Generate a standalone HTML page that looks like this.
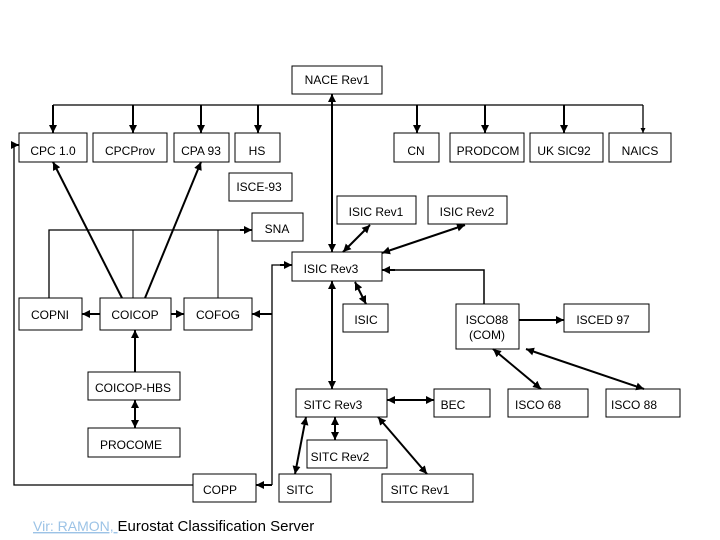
<!DOCTYPE html>
<html><head><meta charset="utf-8"><style>
html,body{margin:0;padding:0;background:#fff}
svg{display:block}
text{font-family:"Liberation Sans",Arial,sans-serif;font-size:12px;fill:#000}
</style></head><body>
<svg width="720" height="540" viewBox="0 0 720 540" xmlns="http://www.w3.org/2000/svg">
<defs>
<marker id="a" viewBox="0 0 10 10" refX="10" refY="5" markerWidth="4" markerHeight="4" orient="auto-start-reverse"><path d="M0,0L10,5L0,10z" fill="#000"/></marker>
</defs>
<g fill="#fff" stroke="#000" stroke-width="1">
<rect x="292" y="66" width="90" height="28"/>
<rect x="19" y="133" width="68" height="29"/>
<rect x="93" y="133" width="74" height="29"/>
<rect x="174" y="133" width="55" height="29"/>
<rect x="235" y="133" width="45" height="29"/>
<rect x="394" y="133" width="45" height="29"/>
<rect x="450" y="133" width="74" height="29"/>
<rect x="530" y="133" width="73" height="29"/>
<rect x="609" y="133" width="62" height="29"/>
<rect x="229" y="173" width="63" height="28"/>
<rect x="337" y="196" width="79" height="28"/>
<rect x="428" y="196" width="79" height="28"/>
<rect x="252" y="213" width="51" height="28"/>
<rect x="292" y="252" width="90" height="29"/>
<rect x="19" y="298" width="63" height="32"/>
<rect x="100" y="298" width="71" height="32"/>
<rect x="184" y="298" width="68" height="32"/>
<rect x="343" y="304" width="45" height="28"/>
<rect x="456" y="304" width="63" height="45"/>
<rect x="564" y="304" width="85" height="28"/>
<rect x="88" y="372" width="92" height="28"/>
<rect x="296" y="389" width="91" height="28"/>
<rect x="434" y="389" width="56" height="28"/>
<rect x="508" y="389" width="80" height="28"/>
<rect x="606" y="389" width="74" height="28"/>
<rect x="88" y="428" width="92" height="29"/>
<rect x="307" y="440" width="80" height="28"/>
<rect x="193" y="474" width="63" height="28"/>
<rect x="279" y="474" width="52" height="28"/>
<rect x="382" y="474" width="91" height="28"/>
</g>
<g fill="none" stroke="#000" stroke-width="2">
<path d="M53,105H643" stroke-width="1.3"/>
<line x1="53" y1="105" x2="53" y2="133" marker-end="url(#a)"/>
<line x1="133" y1="105" x2="133" y2="133" marker-end="url(#a)"/>
<line x1="201" y1="105" x2="201" y2="133" marker-end="url(#a)"/>
<line x1="258" y1="105" x2="258" y2="133" marker-end="url(#a)"/>
<line x1="417" y1="105" x2="417" y2="133" marker-end="url(#a)"/>
<line x1="485" y1="105" x2="485" y2="133" marker-end="url(#a)"/>
<line x1="564" y1="105" x2="564" y2="133" marker-end="url(#a)"/>
<line x1="643" y1="105" x2="643" y2="133" marker-end="url(#a)" stroke-width="1.3"/>
<line x1="332" y1="94" x2="332" y2="252" marker-start="url(#a)" marker-end="url(#a)"/>
<line x1="370" y1="225" x2="343" y2="252" marker-start="url(#a)" marker-end="url(#a)"/>
<line x1="465" y1="225" x2="382" y2="253" marker-start="url(#a)" marker-end="url(#a)"/>
<path d="M49,298V230H252" stroke-width="1.3"/>
<line x1="240" y1="230" x2="252" y2="230" marker-end="url(#a)"/>
<line x1="133" y1="230" x2="133" y2="298" stroke-width="1"/>
<line x1="218" y1="230" x2="218" y2="298" stroke-width="1"/>
<line x1="122" y1="298" x2="53" y2="162" marker-end="url(#a)"/>
<line x1="145" y1="298" x2="201" y2="162" marker-end="url(#a)"/>
<line x1="100" y1="314" x2="82" y2="314" marker-end="url(#a)"/>
<line x1="171" y1="314" x2="184" y2="314" marker-end="url(#a)"/>
<path d="M272,485V265H292" stroke-width="1.3"/>
<line x1="280" y1="265" x2="292" y2="265" marker-end="url(#a)"/>
<line x1="272" y1="314" x2="252" y2="314" marker-end="url(#a)"/>
<line x1="272" y1="485" x2="256" y2="485" marker-end="url(#a)"/>
<path d="M193,485H14V145H19" stroke-width="1.3"/>
<line x1="14" y1="145" x2="19" y2="145" marker-end="url(#a)"/>
<line x1="135" y1="372" x2="135" y2="330" marker-end="url(#a)"/>
<line x1="135" y1="400" x2="135" y2="428" marker-start="url(#a)" marker-end="url(#a)"/>
<line x1="332" y1="281" x2="332" y2="389" marker-start="url(#a)" marker-end="url(#a)"/>
<line x1="355" y1="282" x2="366" y2="304" marker-start="url(#a)" marker-end="url(#a)"/>
<path d="M484,304V270H382" stroke-width="1.5"/>
<line x1="395" y1="270" x2="382" y2="270" marker-end="url(#a)"/>
<line x1="519" y1="320" x2="564" y2="320" marker-end="url(#a)"/>
<line x1="493" y1="349" x2="541" y2="389" marker-start="url(#a)" marker-end="url(#a)"/>
<line x1="526" y1="349" x2="644" y2="389" marker-start="url(#a)" marker-end="url(#a)"/>
<line x1="387" y1="400" x2="434" y2="400" marker-start="url(#a)" marker-end="url(#a)"/>
<line x1="306" y1="417" x2="295" y2="474" marker-start="url(#a)" marker-end="url(#a)"/>
<line x1="335" y1="417" x2="335" y2="440" marker-start="url(#a)" marker-end="url(#a)"/>
<line x1="378" y1="417" x2="427" y2="474" marker-start="url(#a)" marker-end="url(#a)"/>
</g>
<g text-anchor="middle">
<text x="337" y="84">NACE Rev1</text>
<text x="53" y="155">CPC 1.0</text>
<text x="130" y="155">CPCProv</text>
<text x="201" y="155">CPA 93</text>
<text x="257" y="155">HS</text>
<text x="416" y="155">CN</text>
<text x="488" y="155">PRODCOM</text>
<text x="564" y="155">UK SIC92</text>
<text x="640" y="155">NAICS</text>
<text x="259" y="191">ISCE-93</text>
<text x="376" y="216">ISIC Rev1</text>
<text x="467" y="216">ISIC Rev2</text>
<text x="277" y="233">SNA</text>
<text x="331" y="273">ISIC Rev3</text>
<text x="50" y="319">COPNI</text>
<text x="135" y="319">COICOP</text>
<text x="218" y="319">COFOG</text>
<text x="366" y="324">ISIC</text>
<text x="487" y="324">ISCO88</text>
<text x="487" y="339">(COM)</text>
<text x="603" y="324">ISCED 97</text>
<text x="133" y="392">COICOP-HBS</text>
<text x="333" y="409">SITC Rev3</text>
<text x="453" y="409">BEC</text>
<text x="538" y="409">ISCO 68</text>
<text x="634" y="409">ISCO 88</text>
<text x="131" y="449">PROCOME</text>
<text x="340" y="461">SITC Rev2</text>
<text x="220" y="494">COPP</text>
<text x="300" y="494">SITC</text>
<text x="420" y="494">SITC Rev1</text>
</g>
<text x="33" y="531" style="font-size:14px"><tspan fill="#9cc3e6" text-decoration="underline">Vir: RAMON, </tspan><tspan style="font-size:15px">Eurostat Classification Server</tspan></text>
</svg>
</body></html>
